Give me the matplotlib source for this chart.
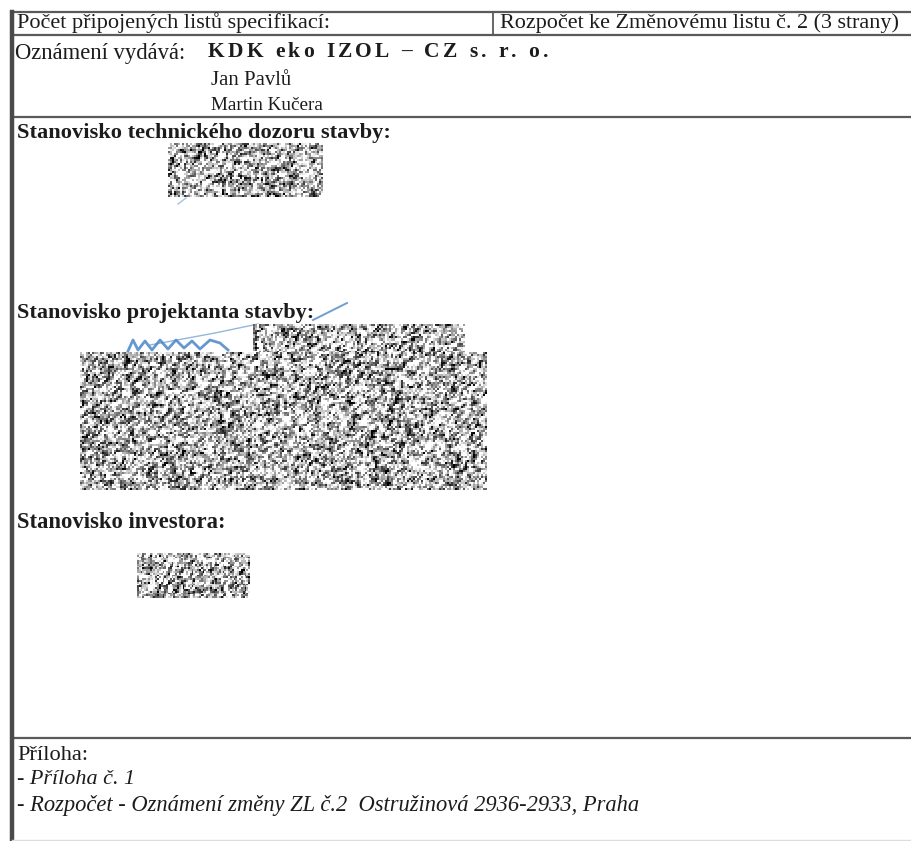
import numpy as np
import matplotlib
matplotlib.use("Agg")
import matplotlib.pyplot as plt

# page size in pixels
W, H = 912, 841

# texts of the form
header_left = "Počet připojených listů specifikací:"
header_right = "Rozpočet ke Změnovému listu č. 2 (3 strany)"
issuer_label = "Oznámení vydává:"
issuer_company = "KDK eko IZOL – CZ s. r. o."
issuer_people = ["Jan Pavlů", "Martin Kučera"]
section_titles = ["Stanovisko technického dozoru stavby:",
                  "Stanovisko projektanta stavby:",
                  "Stanovisko investora:"]
attachment_title = "Příloha:"
attachment_items = ["- Příloha č. 1",
                    "- Rozpočet - Oznámení změny ZL č.2  Ostružinová 2936-2933, Praha"]

INK = "#1c1c1c"
RULE = "#5a5a5a"
SERIF = "Liberation Serif"

fig = plt.figure(figsize=(W / 100, H / 100), dpi=100)
ax = fig.add_axes([0, 0, 1, 1])
renderer = fig.canvas.get_renderer()


def fit_text(s, x0, x1, y, **kw):
    # place text and scale its size so it spans x0..x1
    t = ax.text(x0, y, s, ha="left", va="center", fontsize=12,
                family=SERIF, color=INK, **kw)
    w = t.get_window_extent(renderer).width
    t.set_fontsize(12 * (x1 - x0) / w)
    return t


def spaced_text(s, x0, x1, y, size, **kw):
    # letter-spaced text: draw char by char, spreading the spare room
    widths = []
    for ch in s:
        t = ax.text(0, 0, ch if ch != " " else "n", fontsize=size, family=SERIF, **kw)
        widths.append(t.get_window_extent(renderer).width * (0.45 if ch == " " else 1))
        t.remove()
    gap = ((x1 - x0) - sum(widths)) / (len(s) - 1)
    x = x0
    for ch, w in zip(s, widths):
        if ch != " ":
            ax.text(x, y, ch, ha="left", va="center", fontsize=size,
                    family=SERIF, color=INK, **kw)
        x += w + gap


def noise_box(x0, x1, y0, y1, seed, cell=2.0):
    rng = np.random.default_rng(seed)
    nx, ny = int((x1 - x0) / cell), int((y1 - y0) / cell)
    z = rng.random((ny + 1, nx + 1))
    z = (z[:-1, :-1] + z[1:, :-1] + z[:-1, 1:] + rng.random((ny, nx))) / 4
    z = np.clip((z - 0.5) * 2.4 + 0.72, 0, 1)
    ax.imshow(z, cmap="gray", vmin=0, vmax=1, extent=(x0, x1, y1, y0),
              interpolation="nearest", aspect="auto", zorder=3)


# table rules
ax.plot([12, W], [12, 12], color=RULE, lw=1.6)
ax.plot([12, W], [35, 35], color=RULE, lw=1.6)
ax.plot([493, 493], [12, 35], color=RULE, lw=1.3)
ax.plot([12, W], [117, 117], color=RULE, lw=1.6)
ax.plot([12, W], [738, 738], color=RULE, lw=1.6)
ax.plot([12, 12], [12, H], color="#4a4a4a", lw=3.2)
ax.plot([12, W], [840, 840], color="#dddddd", lw=1.0)

# header row
fit_text(header_left, 17, 331, 23)
fit_text(header_right, 500, 900, 23)

# issuer
fit_text(issuer_label, 15, 185, 53)
spaced_text(issuer_company, 208, 548, 52, 15.5, fontweight="bold")
fit_text(issuer_people[0], 211, 291, 80)
fit_text(issuer_people[1], 211, 323, 105)

# sections
fit_text(section_titles[0], 17, 388, 133, fontweight="bold")
fit_text(section_titles[1], 17, 313, 313, fontweight="bold")
fit_text(section_titles[2], 17, 224, 522, fontweight="bold")

# attachments
fit_text(attachment_title, 17, 88, 755)
fit_text(attachment_items[0], 17, 135, 780, style="italic")
fit_text(attachment_items[1], 17, 640, 805, style="italic")

# blue signature strokes
SIG = "#4a86c8"
ax.plot([313, 347], [320, 303], color=SIG, lw=1.4, alpha=0.8)
ax.plot([150, 215, 258], [345, 333, 324], color=SIG, lw=1.0, alpha=0.6)
ax.plot([128, 133, 138, 145, 152, 160, 168, 176, 184, 192, 200, 210, 220, 228],
        [351, 340, 350, 341, 350, 340, 349, 340, 348, 341, 349, 340, 343, 350],
        color=SIG, lw=2.0, alpha=0.85)
ax.plot([178, 186], [204, 198], color=SIG, lw=1.0, alpha=0.5)

# redacted areas
noise_box(168, 323, 143, 197, 1)
noise_box(253, 465, 325, 353, 2)
noise_box(80, 487, 352, 490, 3)
noise_box(137, 250, 553, 598, 4, cell=1.8)

ax.set_xlim(0, W)
ax.set_ylim(H, 0)
ax.axis("off")
fig.savefig("out.png", dpi=100, facecolor="white")
